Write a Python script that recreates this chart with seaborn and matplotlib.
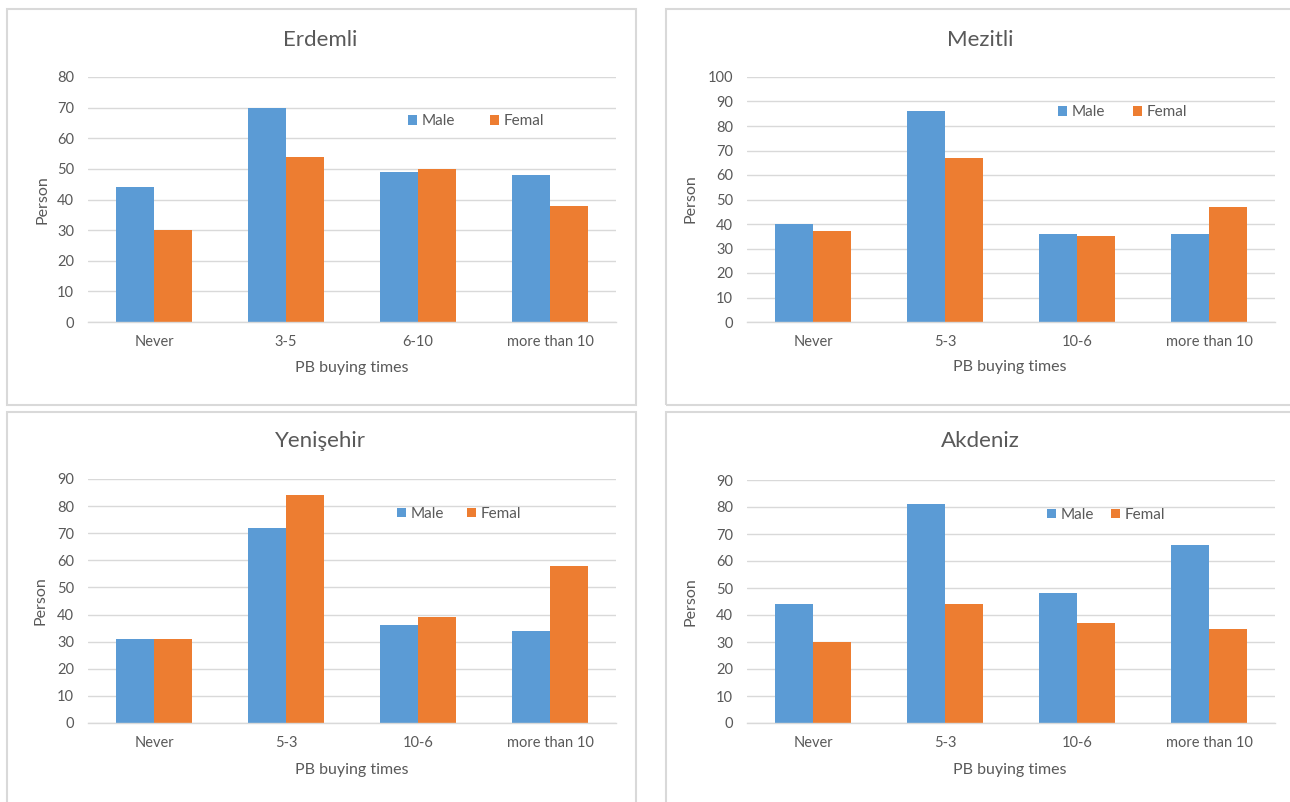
import matplotlib
matplotlib.use('Agg')
import matplotlib.pyplot as plt
import seaborn as sns
import pandas as pd
from matplotlib.patches import Rectangle

# ---------------- data ----------------
titles = ['Erdemli', 'Mezitli', 'Yenişehir', 'Akdeniz']
categories_erdemli = ['Never', '3-5', '6-10', 'more than 10']
categories_other = ['Never', '5-3', '10-6', 'more than 10']
series_names = ['Male', 'Femal']

erdemli_male = [44, 70, 49, 48]
erdemli_female = [30, 54, 50, 38]
mezitli_male = [40, 86, 36, 36]
mezitli_female = [37, 67, 35, 47]
yenisehir_male = [31, 72, 36, 34]
yenisehir_female = [31, 84, 39, 58]
akdeniz_male = [44, 81, 48, 66]
akdeniz_female = [30, 44, 37, 35]

y_max = [80, 100, 90, 90]
x_label = 'PB buying times'
y_label = 'Person'

panels = [
    (categories_erdemli, erdemli_male, erdemli_female),
    (categories_other, mezitli_male, mezitli_female),
    (categories_other, yenisehir_male, yenisehir_female),
    (categories_other, akdeniz_male, akdeniz_female),
]

# ---------------- style ----------------
sns.set_style('white')
plt.rcParams['font.family'] = ['Lato', 'DejaVu Sans']
TXT = '#595959'
GRID = '#d9d9d9'
BLUE = '#5B9BD5'
ORANGE = '#ED7D31'

W, H = 1290, 802
fig = plt.figure(figsize=(W / 100, H / 100), dpi=100)
fig.patch.set_facecolor('white')

def fx(px):
    return px / W

def fy(py):
    return 1 - py / H

# axes rectangles in pixels: left, top, right, bottom
ax_px = [(88, 77, 616, 322), (747, 77, 1275, 322),
         (88, 479, 616, 723), (747, 480, 1275, 723)]
# panel boxes in pixels: left, top, right, bottom
box_px = [(7, 9, 636, 405), (666, 9, 1300, 405),
          (7, 412, 636, 812), (666, 412, 1300, 812)]
title_pos = [(320, 40), (980, 40), (320, 441), (980, 441)]
ylab_pos = [(42, 200), (691, 199), (41, 601), (691, 602)]
xlab_pos = [(352, 368), (1010, 367), (352, 770), (1010, 770)]
legend_anchor = [(0.606, 0.82), (0.589, 0.857), (0.585, 0.857), (0.568, 0.856)]
legend_colspace = [2.3, 1.8, 1.5, 1.1]

for i, (cats, male, female) in enumerate(panels):
    l, t, r, b = box_px[i]
    fig.patches.append(Rectangle((fx(l), fy(b)), fx(r - l), (b - t) / H,
                                 transform=fig.transFigure, fill=False,
                                 edgecolor=GRID, linewidth=1.5, zorder=0))
    al, at, ar, ab = ax_px[i]
    ax = fig.add_axes([fx(al), fy(ab), fx(ar - al), (ab - at) / H])

    df = pd.DataFrame({
        'cat': cats * 2,
        'val': list(male) + list(female),
        'sex': [series_names[0]] * len(cats) + [series_names[1]] * len(cats),
    })
    sns.barplot(data=df, x='cat', y='val', hue='sex', order=cats,
                hue_order=series_names, palette=[BLUE, ORANGE],
                saturation=1, width=0.576, gap=0, linewidth=0,
                errorbar=None, ax=ax)

    ax.set_xlim(-0.5, len(cats) - 0.5)
    ax.set_ylim(0, y_max[i])
    ax.set_yticks(range(0, y_max[i] + 1, 10))
    ax.yaxis.grid(True, color=GRID, linewidth=1)
    ax.set_axisbelow(True)
    for s in ['top', 'left', 'right']:
        ax.spines[s].set_visible(False)
    ax.spines['bottom'].set_color(GRID)
    ax.spines['bottom'].set_linewidth(1)
    ax.tick_params(axis='both', length=0, labelsize=10.5, colors=TXT)
    ax.tick_params(axis='y', pad=10)
    ax.tick_params(axis='x', pad=9.5)
    ax.set_xlabel('')
    ax.set_ylabel('')

    handles, labels = ax.get_legend_handles_labels()
    ax.legend(handles, labels, loc='center left',
              bbox_to_anchor=legend_anchor[i], ncol=2, frameon=False,
              fontsize=11, labelcolor=TXT, handlelength=0.6,
              handleheight=0.6, handletextpad=0.3,
              columnspacing=legend_colspace[i], borderpad=0,
              borderaxespad=0)

    tx, ty = title_pos[i]
    fig.text(fx(tx), fy(ty), titles[i], ha='center', va='center',
             fontsize=16, color=TXT)
    yx, yy = ylab_pos[i]
    fig.text(fx(yx), fy(yy), y_label, ha='center', va='center',
             rotation=90, fontsize=11.5, color=TXT)
    xx, xy = xlab_pos[i]
    fig.text(fx(xx), fy(xy), x_label, ha='center', va='center',
             fontsize=11.5, color=TXT)

fig.savefig('out.png', dpi=100, facecolor='white')
